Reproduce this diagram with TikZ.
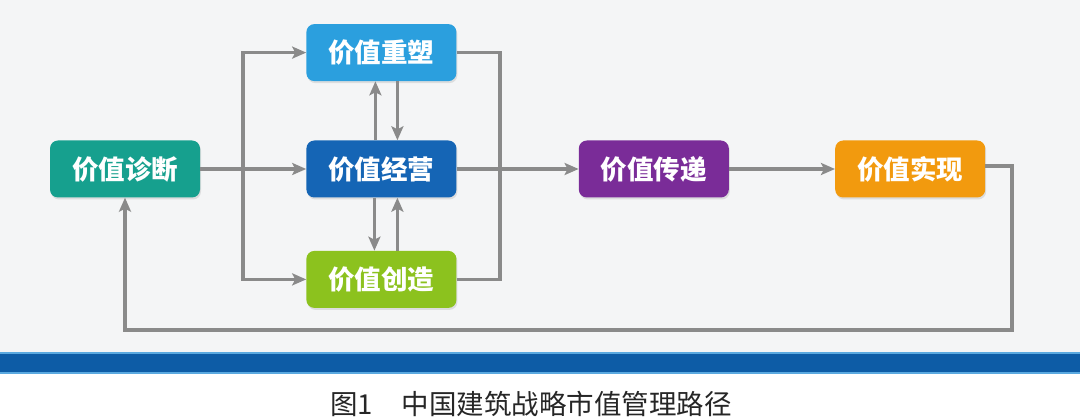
\documentclass[tikz,border=0pt]{standalone}
\usepackage{tikz}
\usepackage{xcolor}
\usepackage{fontspec}
\newfontfamily\cjk{Noto Sans CJK SC}
\usetikzlibrary{shapes,arrows,arrows.meta,positioning,shadows,calc}

\definecolor{bggray}{HTML}{F4F5F6}
\definecolor{barblue}{HTML}{0D5CA6}
\definecolor{barline}{HTML}{5AA9E0}
\definecolor{linegray}{HTML}{8A8A8A}
\definecolor{cteal}{HTML}{16A08E}
\definecolor{clight}{HTML}{2B9FDE}
\definecolor{cdark}{HTML}{1565B5}
\definecolor{cgreen}{HTML}{8CC21E}
\definecolor{cpurple}{HTML}{7A2C98}
\definecolor{corange}{HTML}{F29A0E}

\tikzset{
	stepbox/.style={rectangle, rounded corners=8pt, minimum width=150pt, minimum height=57pt, text=white, font=\cjk\bfseries\fontsize{26.5}{30}\selectfont, drop shadow={opacity=0.2, shadow xshift=1pt, shadow yshift=-2pt}},
	link/.style={draw=linegray, line width=3.3pt},
	arr/.style={link, -{Stealth[length=14pt, width=12pt, inset=3pt]}}
}

\begin{document}
\begin{tikzpicture}[x=1pt, y=-1pt]
	% background and bar
	\useasboundingbox (0,0) rectangle (1080,419);
	\fill[bggray] (0,0) rectangle (1080,352);
	\fill[barblue] (0,352) rectangle (1080,374);
	\fill[barline] (0,352) rectangle (1080,354);
	\fill[barline] (0,372) rectangle (1080,374);
	
	% boxes
	\node[stepbox, fill=cteal] (diag) at (125,169) {价值诊断};
	\node[stepbox, fill=cdark, right=106pt of diag] (jing) {价值经营};
	\node[stepbox, fill=clight, above=59pt of jing] (chong) {价值重塑};
	\node[stepbox, fill=cgreen, below=53pt of jing] (chuang) {价值创造};
	\node[stepbox, fill=cpurple, right=122pt of jing] (chuan) {价值传递};
	\node[stepbox, fill=corange, right=106pt of chuan] (shi) {价值实现};
	
	\coordinate (split) at (243,169);
	\coordinate (merge) at (500,169);
	\coordinate (fb) at (1012,330);
	
	% connectors
	\draw[arr] (diag) -- (jing);
	\draw[arr] (split) |- (chong);
	\draw[arr] (split) |- (chuang);
	\draw[link] (chong) -| (merge);
	\draw[link] (chuang) -| (merge);
	\draw[arr] (jing) -- (chuan);
	\draw[arr] (chuan) -- (shi);
	\draw[arr] ([xshift=-6pt]jing.north) -- ([xshift=-6pt]chong.south);
	\draw[arr] ([xshift=16pt]chong.south) -- ([xshift=16pt]jing.north);
	\draw[arr] ([xshift=-7pt]jing.south) -- ([xshift=-7pt]chuang.north);
	\draw[arr] ([xshift=16pt]chuang.north) -- ([xshift=16pt]jing.south);
	\draw[arr] ([yshift=3pt]shi.east) -| (fb) -| (diag.south);
	
	% caption
	\node[font=\cjk\fontsize{27.5}{32}\selectfont, text=black!85] (cap) at (531,404) {图1\hspace{1.05em}中国建筑战略市值管理路径};
\end{tikzpicture}
\end{document}
